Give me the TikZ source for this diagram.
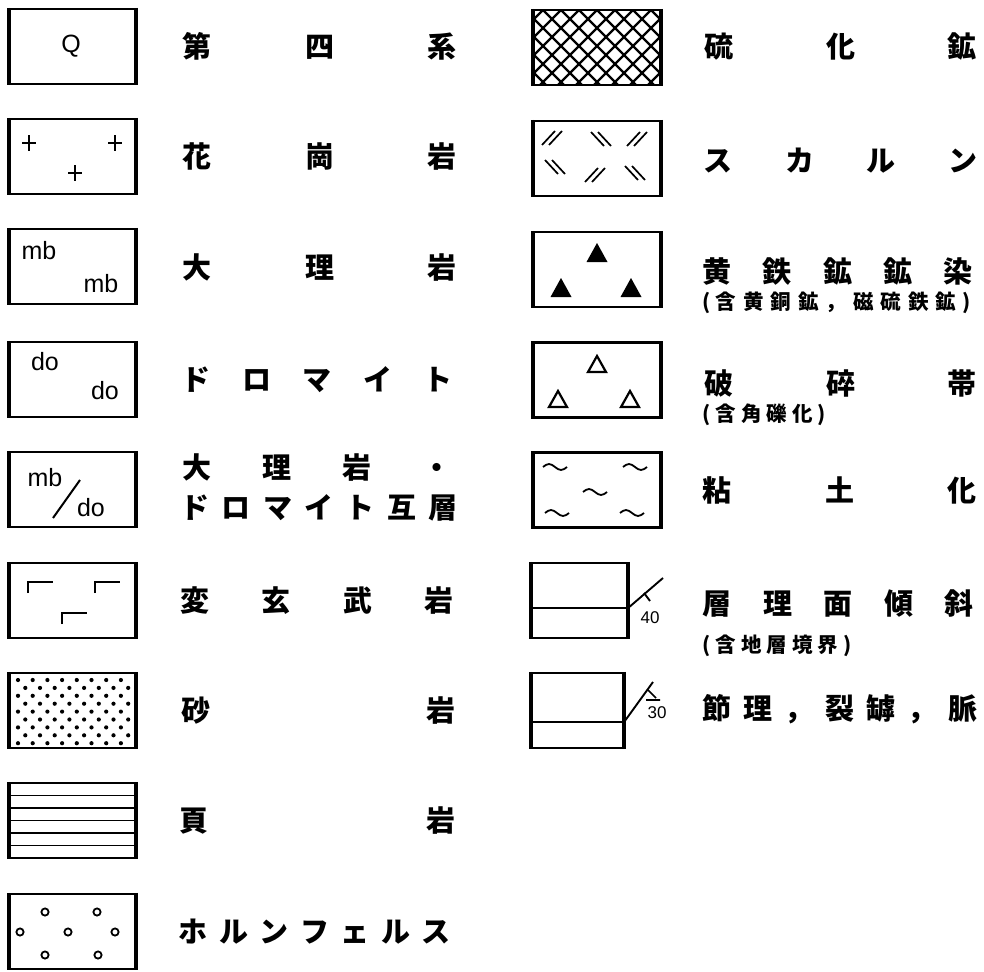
\documentclass[tikz,border=0pt]{standalone}
\usepackage{fontspec}
\newfontfamily\cjk{Noto Sans CJK JP}
\newfontfamily\lat{Liberation Sans}
\newcommand\chrow[6]{%
  \foreach \c [count=\i from 0] in {#6} {\node[#5] (#1-\i) at ({#2+#3*\i},#4) {\c};}}
\begin{document}
\begin{tikzpicture}[x=1pt,y=-1pt,
  lbox/.style={draw, line width=2.2pt, minimum width=125pt, minimum height=75pt, inner sep=0pt,
    append after command={\pgfextra{\draw[line width=3pt] (\tikzlastnode.north west) -- (\tikzlastnode.south west)
      (\tikzlastnode.north east) -- (\tikzlastnode.south east);}}},
  ch/.style={font=\cjk\bfseries\fontsize{29}{29}\selectfont, inner sep=0pt, anchor=base, yshift=-11pt},
  sub/.style={font=\cjk\bfseries\fontsize{20.5}{20.5}\selectfont, inner sep=0pt, anchor=base, yshift=-7.8pt},
  lt/.style={font=\lat\fontsize{25}{25}\selectfont, inner sep=0pt},
  num/.style={font=\lat\fontsize{17}{17}\selectfont, inner sep=0pt},
  sym/.style={line width=2pt},
  hair/.style={line width=1.3pt}]
\useasboundingbox (0,0) rectangle (984,971);

% ---------- left column boxes ----------
\node[lbox] (bq)  at (72.5,46.5)  {};
\node[lbox] (bgr) at (72.5,156.5) {};
\node[lbox] (bmb) at (72.5,266.5) {};
\node[lbox] (bdo) at (72.5,379.5) {};
\node[lbox] (bmd) at (72.5,489.5) {};
\node[lbox] (bba) at (72.5,600.5) {};
\node[lbox] (bss) at (72.5,710.5) {};
\node[lbox] (bsh) at (72.5,820.5) {};
\node[lbox] (bho) at (72.5,931.5) {};

% Q
\node[lt] (tq) at (71,46) {Q};
% granite
\foreach \x/\y in {29/143,115/143,75/173}
  \draw[line width=2.3pt] (\x-7,\y) -- (\x+7,\y) (\x,\y-8) -- (\x,\y+8);
% marble
\node[lt] (tmb1) at (39,251) {mb};
\node[lt] (tmb2) at (101,284) {mb};
% dolomite
\node[lt] (tdo1) at (45,362) {do};
\node[lt] (tdo2) at (105,391) {do};
% mb/do
\node[lt] (tmd1) at (45,478) {mb};
\node[lt] (tmd2) at (91,508) {do};
\draw[line width=2pt] (53,518) -- (80,480);
% basalt
\foreach \x/\y in {28/582,95/582,62/613}
  \draw[line width=2.4pt] (\x,\y+11) -- (\x,\y) -- (\x+25,\y);
% sandstone
\begin{scope}
  \clip (13,676) rectangle (132,746);
  \foreach \r in {0,...,8}
    \foreach \k in {0,...,8}
      \fill ({18+7.3*mod(\r,2)+14.7*\k},{680+7.9*\r}) circle (2.1pt);
\end{scope}
% shale
\foreach \y in {795.5,808,820.5,833,845.5}
  \draw[hair] (10,\y) -- (135,\y);
% hornfels
\foreach \x/\y in {45/912,97/912,20/932,68/932,115/932,45/955,98/955}
  \draw[line width=1.8pt] (\x,\y) circle (3.6pt);

% ---------- left column texts ----------
\chrow{l1}{197}{122.5}{46.5}{ch}{第,四,系}
\chrow{l2}{197}{122.5}{156.5}{ch}{花,崗,岩}
\chrow{l3}{197}{122.5}{267}{ch}{大,理,岩}
\chrow{l4}{196}{60.5}{379}{ch}{ド,ロ,マ,イ,ト}
\chrow{l5a}{197}{80}{467}{ch}{大,理,岩,・}
\chrow{l5b}{195}{41.3}{507}{ch}{ド,ロ,マ,イ,ト,互,層}
\chrow{l6}{195}{81.3}{600.5}{ch}{変,玄,武,岩}
\chrow{l7}{196}{245}{710.5}{ch}{砂,岩}
\chrow{l8}{194}{247}{820.5}{ch}{頁,岩}
\chrow{l9}{193}{40.5}{931.5}{ch}{ホ,ル,ン,フ,ェ,ル,ス}

% ---------- right column boxes ----------
\node[lbox, minimum width=126pt] (bsu) at (597,47.5)  {};
\node[lbox, minimum width=126pt] (bsk) at (597,158.5) {};
\node[lbox, minimum width=126pt] (bpy) at (597,269.5) {};
\node[lbox, minimum width=126pt] (bbr) at (597,380)   {};
\node[lbox, minimum width=126pt] (bcl) at (597,490)   {};
\node[lbox, minimum width=95pt]  (bbd) at (579.5,600.5) {};
\node[lbox, minimum width=91pt]  (bjt) at (577.5,710.5) {};

% sulfide cross-hatch
\begin{scope}
  \clip (535,10) rectangle (660,85);
  \foreach \k in {-6,...,12} {
    \draw[line width=2.2pt] ({543+18*\k},10) -- ++(80,80);
    \draw[line width=2.2pt] ({543+18*\k},10) -- ++(-80,80);
  }
\end{scope}
% skarn
\foreach \x/\y in {552/138,637/139,595/175}
  \draw[line width=1.7pt] (\x-10,\y+7) -- (\x+3,\y-7) (\x-3,\y+7) -- (\x+10,\y-7);
\foreach \x/\y in {601/139,555/167,635/173}
  \draw[line width=1.7pt] (\x-10,\y-7) -- (\x+3,\y+7) (\x-3,\y-7) -- (\x+10,\y+7);
% pyrite
\foreach \x/\y in {597/253,561/288,631/288}
  \fill (\x,\y-10) -- (\x-10.5,\y+9) -- (\x+10.5,\y+9) -- cycle;
% breccia
\foreach \x/\y in {597/364,558/399,630/399}
  \draw[line width=2.2pt, line join=miter] (\x,\y-8) -- (\x-9,\y+8) -- (\x+9,\y+8) -- cycle;
% clay
\foreach \x/\y in {555/467,635/467,595/492,557/513,632/513}
  \draw[line width=1.8pt] (\x-12,\y) sin (\x-6,\y-3) cos (\x,\y) sin (\x+6,\y+3) cos (\x+12,\y);
% bedding
\draw[hair] (bbd.west |- 0,608) -- (bbd.east |- 0,608);
\coordinate (bdA) at (bbd.east |- 0,608);
\coordinate (bdB) at (663,578);
\draw[line width=1.9pt] (bdA) -- (bdB);
\draw[line width=1.9pt] (644,593) -- (650,601);
\node[num] (n40) at (650,618) {40};
% joint
\draw[hair] (bjt.west |- 0,722) -- (bjt.east |- 0,722);
\coordinate (jtA) at (bjt.east |- 0,722);
\coordinate (jtB) at (653,682);
\draw[line width=1.9pt] (jtA) -- (jtB);
\draw[line width=1.7pt] (648,690) -- (656,698) (646,700) -- (660,700);
\node[num] (n30) at (657,713) {30};

% ---------- right column texts ----------
\chrow{r1}{719}{121.5}{47}{ch}{硫,化,鉱}
\chrow{r2}{718}{81.7}{160}{ch}{ス,カ,ル,ン}
\chrow{r3}{717}{60.25}{271}{ch}{黄,鉄,鉱,鉱,染}
\node[sub] (r3s-o) at (707,302) {(};
\chrow{r3s}{726}{27.5}{302}{sub}{含,黄,銅,鉱,，,磁,硫,鉄,鉱}
\node[sub] (r3s-c) at (967,302) {)};
\chrow{r4}{719}{121.5}{383}{ch}{破,碎,帯}
\node[sub] (r4s-o) at (707,414) {(};
\chrow{r4s}{726}{25.5}{414}{sub}{含,角,礫,化}
\node[sub] (r4s-c) at (822,414) {)};
\chrow{r5}{717}{122.5}{490}{ch}{粘,土,化}
\chrow{r6}{717}{60.5}{603}{ch}{層,理,面,傾,斜}
\node[sub] (r6s-o) at (707,645) {(};
\chrow{r6s}{726}{25.5}{645}{sub}{含,地,層,境,界}
\node[sub] (r6s-c) at (848,645) {)};
\chrow{r7}{717}{41}{708}{ch}{節,理,，,裂,罅,，,脈}
\end{tikzpicture}
\end{document}
